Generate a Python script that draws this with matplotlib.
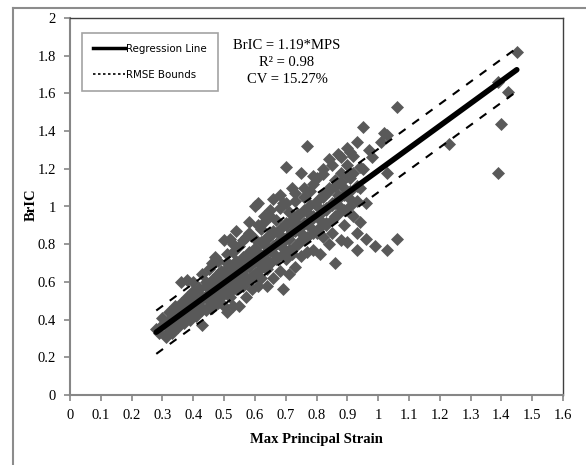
import matplotlib
matplotlib.use("Agg")
import matplotlib.pyplot as plt
import numpy as np
from matplotlib.lines import Line2D

# ---------------- data ----------------
mps = [0.28,0.29,0.30,0.31,0.32,0.32,0.33,0.33,0.34,0.34,0.35,0.35,0.36,0.36,0.37,0.37,0.38,0.38,0.39,0.39,
       0.40,0.40,0.41,0.41,0.42,0.42,0.43,0.43,0.44,0.44,0.45,0.45,0.46,0.46,0.46,0.47,0.47,0.47,0.48,0.48,
       0.49,0.49,0.50,0.50,0.50,0.51,0.51,0.51,0.52,0.52,0.52,0.53,0.53,0.53,0.54,0.54,0.54,0.55,0.55,0.55,
       0.56,0.56,0.57,0.57,0.57,0.58,0.58,0.58,0.59,0.59,0.60,0.60,0.60,0.60,0.61,0.61,0.61,0.62,0.62,0.62,
       0.63,0.63,0.63,0.64,0.64,0.64,0.65,0.65,0.65,0.66,0.66,0.66,0.67,0.67,0.67,0.68,0.68,0.68,0.69,0.69,
       0.69,0.70,0.70,0.70,0.71,0.71,0.71,0.72,0.72,0.72,0.73,0.73,0.73,0.74,0.74,0.75,0.75,0.75,0.76,0.76,
       0.76,0.77,0.77,0.77,0.78,0.78,0.79,0.79,0.79,0.80,0.80,0.80,0.81,0.81,0.82,0.82,0.82,0.83,0.83,0.84,
       0.84,0.84,0.85,0.85,0.86,0.86,0.86,0.87,0.87,0.88,0.88,0.88,0.89,0.89,0.90,0.90,0.90,0.91,0.91,0.92,
       0.92,0.93,0.93,0.93,0.94,0.94,0.95,0.95,0.96,0.96,0.97,0.98,0.99,1.01,1.02,1.03,1.03,1.03,1.06,1.06,
       1.23,1.39,1.39,1.40,1.42,1.45,
       0.31,0.33,0.35,0.37,0.39,0.41,0.43,0.45,0.47,0.49,0.51,0.53,0.55,0.57,0.59,0.61,0.63,0.65,0.67,0.69,
       0.71,0.73,0.75,0.77,0.79,0.81,0.83,0.85,0.87,0.89,0.91,0.93,
       0.34,0.38,0.42,0.46,0.50,0.54,0.58,0.62,0.66,0.70,0.74,0.78,0.82,0.86,0.90,
       0.30,0.32,0.34,0.36,0.38,0.40,0.42,0.44,0.46,0.48,0.50,0.52,0.54,0.56,0.58,0.60,0.62,0.64,0.66,0.68,
       0.70,0.72,0.74,0.76,0.78,0.80,0.82,0.84,0.86,0.88,0.90,0.92,0.94,
       0.33,0.35,0.37,0.39,0.41,0.43,0.45,0.47,0.49,0.51,0.53,0.55,0.57,0.59,0.61,0.63,0.65,0.67,0.69,0.71,
       0.73,0.75,0.77,0.79,0.81,0.83,0.85,0.87,0.89,0.91,0.93,
       0.40,0.43,0.45,0.48,0.51,0.53,0.56,0.58,0.61,0.63,0.65,0.68,0.70,0.73,0.76,0.79,0.82,0.85,0.88,0.91]
bric = [0.35,0.33,0.37,0.31,0.40,0.34,0.38,0.44,0.36,0.42,0.40,0.46,0.60,0.44,0.49,0.41,0.61,0.45,0.52,0.43,
        0.47,0.55,0.50,0.42,0.56,0.48,0.37,0.52,0.60,0.45,0.54,0.50,0.70,0.58,0.46,0.62,0.73,0.53,0.57,0.49,
        0.66,0.60,0.82,0.55,0.47,0.63,0.44,0.70,0.59,0.83,0.52,0.66,0.76,0.47,0.62,0.87,0.56,0.69,0.47,0.79,
        0.64,0.58,0.72,0.84,0.52,0.68,0.61,0.92,0.75,0.56,1.00,0.71,0.64,0.83,0.76,0.58,1.02,0.69,0.88,0.62,
        0.80,0.73,0.95,0.67,0.84,0.58,0.77,0.98,0.70,0.87,0.62,1.04,0.80,0.74,0.93,0.66,0.85,1.06,0.56,0.78,
        1.02,0.90,0.72,1.21,0.83,0.97,0.64,0.87,1.10,0.75,0.92,0.68,1.03,0.80,0.96,0.86,0.74,1.18,0.91,1.05,
        0.82,0.97,1.32,0.76,0.89,1.08,0.95,0.77,1.12,0.86,1.00,1.15,0.75,0.93,1.05,0.84,1.20,0.98,0.90,1.10,
        0.80,1.25,0.86,1.02,0.70,1.14,0.95,1.28,1.06,0.82,1.18,0.99,1.10,0.90,1.31,0.81,1.22,1.04,1.15,0.95,
        1.27,0.86,1.34,0.77,1.10,0.92,1.42,1.20,1.02,0.83,1.30,1.26,0.79,1.34,1.39,1.18,0.77,1.38,0.83,1.53,
        1.33,1.66,1.18,1.44,1.61,1.82,
        0.37,0.39,0.42,0.44,0.47,0.49,0.51,0.54,0.56,0.58,0.61,0.63,0.65,0.68,0.70,0.73,0.75,0.77,0.80,0.82,
        0.85,0.87,0.89,0.92,0.94,0.96,0.99,1.01,1.04,1.06,1.08,1.11,
        0.41,0.45,0.50,0.55,0.60,0.64,0.69,0.74,0.79,0.83,0.88,0.93,0.98,1.02,1.07,
        0.41,0.44,0.47,0.49,0.52,0.53,0.57,0.58,0.61,0.64,0.66,0.69,0.71,0.73,0.76,0.78,0.81,0.83,0.86,0.88,
        0.91,0.93,0.95,0.98,1.01,1.03,1.06,1.08,1.11,1.13,1.16,1.18,1.21,
        0.33,0.36,0.38,0.40,0.43,0.45,0.47,0.50,0.52,0.54,0.56,0.59,0.61,0.63,0.66,0.68,0.70,0.72,0.75,0.77,
        0.79,0.82,0.84,0.86,0.89,0.91,0.93,0.96,0.98,1.00,1.03,
        0.60,0.64,0.67,0.71,0.75,0.80,0.82,0.86,0.90,0.92,0.95,0.99,1.02,1.07,1.10,1.16,1.17,1.22,1.26,1.29]

slope = 1.19
rmse = 0.115
line_x = np.array([0.28, 1.45])

x_ticks = [0, 0.1, 0.2, 0.3, 0.4, 0.5, 0.6, 0.7, 0.8, 0.9, 1, 1.1, 1.2, 1.3, 1.4, 1.5, 1.6]
x_tick_labels = ["0", "0.1", "0.2", "0.3", "0.4", "0.5", "0.6", "0.7", "0.8", "0.9", "1",
                 "1.1", "1.2", "1.3", "1.4", "1.5", "1.6"]
y_ticks = [0, 0.2, 0.4, 0.6, 0.8, 1, 1.2, 1.4, 1.6, 1.8, 2]
y_tick_labels = ["0", "0.2", "0.4", "0.6", "0.8", "1", "1.2", "1.4", "1.6", "1.8", "2"]

# ---------------- figure ----------------
W, H = 586, 465
fig = plt.figure(figsize=(W / 100, H / 100), dpi=100)
serif = ["Liberation Serif", "DejaVu Serif"]

# outer chart border (only left/top visible)
fig.add_artist(Line2D([13 / W, 13 / W], [0, 1 - 8 / H], color="#8c8c8c", lw=1.5,
                      transform=fig.transFigure))
fig.add_artist(Line2D([13 / W, 1], [1 - 8 / H, 1 - 8 / H], color="#8c8c8c", lw=1.5,
                      transform=fig.transFigure))

ax = fig.add_axes([70 / W, 1 - 395 / H, (563 - 70) / W, (395 - 18) / H])
ax.set_xlim(0, 1.6)
ax.set_ylim(0, 2)

ax.scatter(mps, bric, marker="D", s=44, color="#595959", linewidths=0, zorder=2)

ax.plot(line_x, slope * line_x, color="black", lw=4, solid_capstyle="round", zorder=3)
ax.plot(line_x, slope * line_x + rmse, color="black", lw=1.5, ls=(0, (4, 4)), zorder=3)
ax.plot(line_x, slope * line_x - rmse, color="black", lw=1.5, ls=(0, (4, 4)), zorder=3)

for s in ["left", "bottom"]:
    ax.spines[s].set_color("#868686")
    ax.spines[s].set_linewidth(1.5)
for s in ["top", "right"]:
    ax.spines[s].set_color("#404040")
    ax.spines[s].set_linewidth(1.0)

ax.set_xticks(x_ticks)
ax.set_xticklabels(x_tick_labels, family=serif, fontsize=10.5)
ax.set_yticks(y_ticks)
ax.set_yticklabels(y_tick_labels, family=serif, fontsize=10.5)
ax.tick_params(axis="both", direction="out", length=4, width=1.2, color="#868686",
               top=False, right=False, pad=6)

ax.set_xlabel("Max Principal Strain", family=serif, fontweight="bold", fontsize=10.5, labelpad=8)
ax.set_ylabel("BrIC", family=serif, fontweight="bold", fontsize=10.5)
ax.yaxis.set_label_coords((38 - 70) / 493, (395 - 205) / 377)

handles = [Line2D([], [], color="black", lw=2.5),
           Line2D([], [], color="black", lw=1.2, ls=(0, (1.5, 1.5)))]
leg = ax.legend(handles, ["Regression Line", "RMSE Bounds"], loc="upper left",
                bbox_to_anchor=(12 / 493, 1 - 15 / 377), frameon=True, fancybox=False,
                edgecolor="#8c8c8c",
                prop={"family": "DejaVu Sans", "stretch": "condensed", "size": 8.2},
                handlelength=2.8, borderpad=0.95, labelspacing=1.45, handletextpad=0.15,
                borderaxespad=0)
leg.get_frame().set_linewidth(1.2)
leg.set_zorder(5)

ax.text((287 - 70) / 493, 1 - 21 / 377, "BrIC = 1.19*MPS\nR² = 0.98\nCV = 15.27%",
        transform=ax.transAxes, ha="center", va="top", family=serif, fontsize=10.5,
        linespacing=1.42, zorder=6,
        bbox=dict(facecolor="white", edgecolor="none", pad=3))

fig.savefig("out.png", dpi=100)
